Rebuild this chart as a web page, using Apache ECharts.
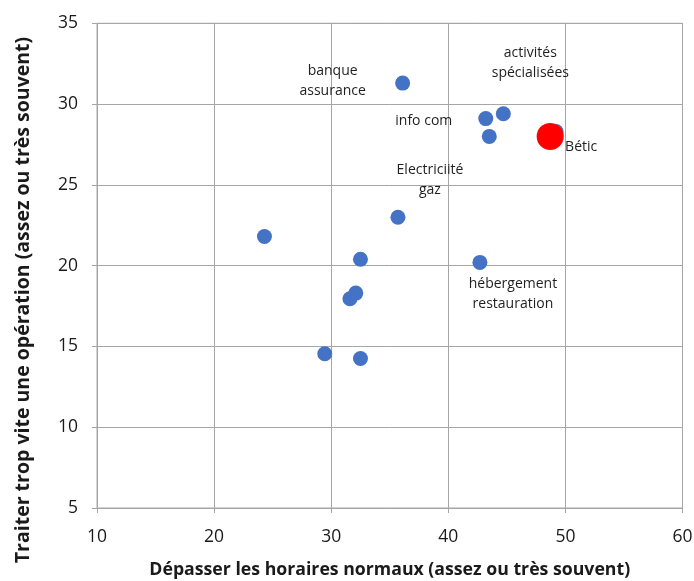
<!DOCTYPE html>
<html><head><meta charset="utf-8">
<script src="https://cdn.jsdelivr.net/npm/echarts@6/dist/echarts.min.js"></script>
<style>html,body{margin:0;padding:0;background:#fff}#c{width:694px;height:581px}</style>
</head><body><div id="c"></div>
<script>
// Sector points: x = Dépasser les horaires normaux, y = Traiter trop vite une opération
const sectorNames = ['', '', '', '', '', '', 'Electriciité\ngaz', 'banque\nassurance', 'hébergement\nrestauration', 'info com', '', 'activités\nspécialisées', ''];
const sectorX = [24.3, 29.45, 31.6, 32.1, 32.5, 32.5, 35.7, 36.1, 42.7, 43.2, 43.5, 44.7, 49.2];
const sectorY = [21.8, 14.55, 17.95, 18.3, 20.4, 14.25, 23.0, 31.3, 20.2, 29.1, 28.0, 29.4, 28.3];
const beticName = 'Bétic';
const beticX = [48.7];
const beticY = [28.0];
const xTicks = [10, 20, 30, 40, 50, 60];
const yTicks = [5, 10, 15, 20, 25, 30, 35];

const labelOffsets = {
  'Electriciité\ngaz': [32, -37],
  'banque\nassurance': [-70, -2],
  'hébergement\nrestauration': [33, 32],
  'info com': [-62, 2],
  'activités\nspécialisées': [27, -51]
};

const labelFont = {fontFamily: 'Open Sans', fontSize: 14, color: '#1f1f1f', lineHeight: 20, opacity: 1};

const sectorData = sectorX.map((x, i) => {
  const n = sectorNames[i];
  const d = {value: [x, sectorY[i]], name: n};
  if (n) {
    d.label = Object.assign({show: true, position: 'inside', offset: labelOffsets[n], formatter: '{b}', align: 'center', verticalAlign: 'middle'}, labelFont);
  }
  return d;
});
const beticData = beticX.map((x, i) => ({
  value: [x, beticY[i]], name: beticName,
  label: Object.assign({show: true, position: 'inside', offset: [31, 11], formatter: '{b}', align: 'center', verticalAlign: 'middle'}, labelFont)
}));

const gridColor = '#a6a6a6';
const chart = echarts.init(document.getElementById('c'), null, {renderer: 'canvas'});
chart.setOption({
  animation: false,
  backgroundColor: '#ffffff',
  grid: {left: 97, right: 11.5, top: 23.3, bottom: 73, containLabel: false, outerBoundsMode: 'none', show: true, borderColor: gridColor, borderWidth: 1},
  xAxis: {
    type: 'value', min: xTicks[0], max: xTicks[xTicks.length - 1], interval: 10,
    name: 'Dépasser les horaires normaux (assez ou très souvent)',
    nameLocation: 'middle', nameGap: 53,
    nameTextStyle: {fontFamily: 'Open Sans', fontWeight: 'bold', fontSize: 17.7, color: '#1a1a1a'},
    axisLine: {show: true, lineStyle: {color: gridColor, width: 1}},
    axisTick: {show: true, length: 5, lineStyle: {color: gridColor}},
    axisLabel: {fontFamily: 'Open Sans', fontSize: 17.5, color: '#1a1a1a', margin: 20},
    splitLine: {show: true, lineStyle: {color: gridColor, width: 1}}
  },
  yAxis: {
    type: 'value', min: yTicks[0], max: yTicks[yTicks.length - 1], interval: 5,
    axisLine: {show: true, lineStyle: {color: gridColor, width: 1}},
    axisTick: {show: true, length: 5, lineStyle: {color: gridColor}},
    axisLabel: {fontFamily: 'Open Sans', fontSize: 17.5, color: '#1a1a1a', margin: 19},
    splitLine: {show: true, lineStyle: {color: gridColor, width: 1}}
  },
  graphic: [{
    type: 'text', x: 23, y: 300, rotation: Math.PI / 2,
    style: {text: 'Traiter trop vite une opération (assez ou très souvent)', fontFamily: 'Open Sans', fontWeight: 'bold', fontSize: 19.5, fill: '#1a1a1a', align: 'center', verticalAlign: 'middle'}
  }],
  series: [
    {type: 'scatter', symbolSize: 15, itemStyle: {color: '#4472C4', opacity: 1}, data: sectorData, z: 2},
    {type: 'scatter', symbolSize: 27, itemStyle: {color: '#FF0000', opacity: 1}, data: beticData, z: 3}
  ]
});
</script></body></html>
